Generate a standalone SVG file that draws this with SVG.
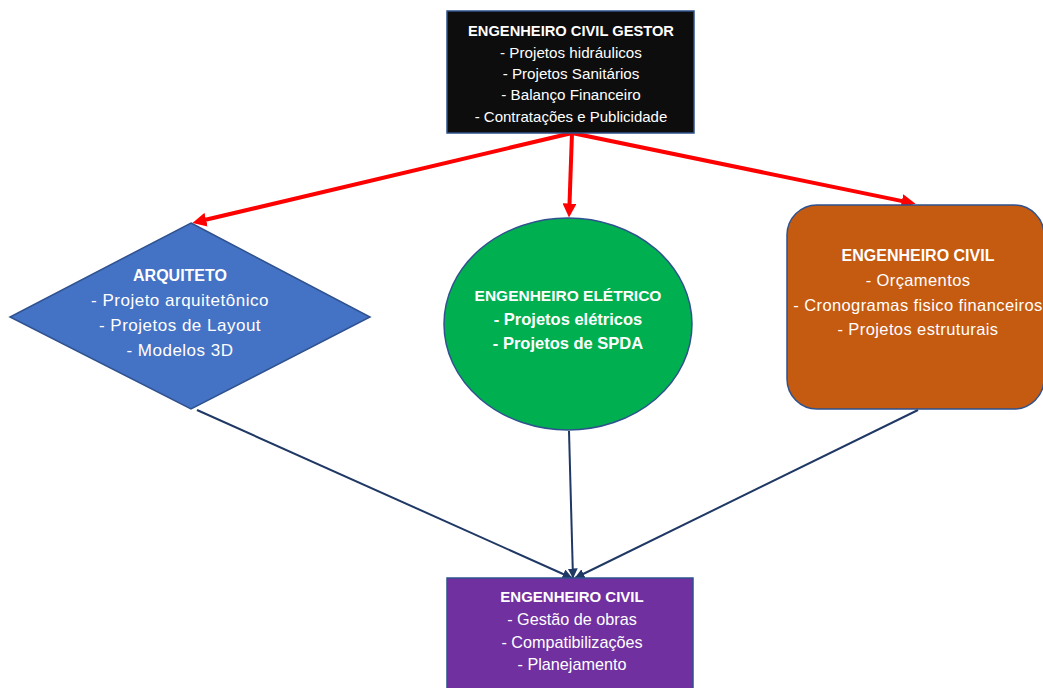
<svg xmlns="http://www.w3.org/2000/svg" width="1043" height="688" viewBox="0 0 1043 688">
  <defs>
    <style>
      .t { font-family: "Liberation Sans", Arial, sans-serif; fill: #ffffff; text-anchor: middle; }
      .b { font-weight: bold; }
      .shape { stroke: #2F528F; stroke-width: 1.5; }
      .red { stroke: #FF0000; stroke-width: 4; fill: none; marker-end: url(#redHead); }
      .navy { stroke: #1F3864; stroke-width: 2; fill: none; marker-end: url(#navyHead); }
    </style>
    <marker id="redHead" viewBox="0 0 14 14" markerWidth="14" markerHeight="14" refX="0.5" refY="7" orient="auto" markerUnits="userSpaceOnUse">
      <path d="M0,0 L14,7 L0,14 z" fill="#FF0000"/>
    </marker>
    <marker id="navyHead" viewBox="0 0 10 10" markerWidth="10" markerHeight="10" refX="9.5" refY="5" orient="auto" markerUnits="userSpaceOnUse">
      <path d="M0,0 L10,5 L0,10 z" fill="#1F3864"/>
    </marker>
  </defs>

  <rect width="1043" height="688" fill="#ffffff"/>

  <!-- connectors -->
  <g id="connectors">
    <line class="red" x1="572" y1="133" x2="205.6" y2="219.8"/>
    <line class="red" x1="572" y1="133" x2="569.5" y2="204"/>
    <line class="red" x1="572" y1="133" x2="902.3" y2="201.1"/>
    <line class="navy" x1="197" y1="410" x2="572" y2="578"/>
    <line class="navy" x1="569" y1="431" x2="573" y2="578"/>
    <line class="navy" x1="918" y1="410" x2="575" y2="578"/>
  </g>

  <!-- top manager -->
  <g id="gestor">
    <rect class="shape" x="447" y="11" width="247" height="122" fill="#0D0D0D" stroke="#3A4A66"/>
    <text class="t b" x="571" y="36" font-size="14.7">ENGENHEIRO CIVIL GESTOR</text>
    <text class="t" x="571" y="58" font-size="15.2">- Projetos hidráulicos</text>
    <text class="t" x="571" y="79" font-size="15.2">- Projetos Sanitários</text>
    <text class="t" x="571" y="100" font-size="15.2">- Balanço Financeiro</text>
    <text class="t" x="571" y="122" font-size="15">- Contratações e Publicidade</text>
  </g>

  <!-- architect -->
  <g id="arquiteto">
    <polygon class="shape" points="191,223 370,317 191,409 10,317" fill="#4472C4"/>
    <text class="t b" x="180" y="281" font-size="16">ARQUITETO</text>
    <text class="t" x="180" y="306" font-size="17" letter-spacing="0.5">- Projeto arquitetônico</text>
    <text class="t" x="180" y="331" font-size="17" letter-spacing="0.5">- Projetos de Layout</text>
    <text class="t" x="180" y="356" font-size="17" letter-spacing="0.5">- Modelos 3D</text>
  </g>

  <!-- electrical engineer -->
  <g id="eletrico">
    <ellipse class="shape" cx="568" cy="324" rx="124" ry="106" fill="#00B050"/>
    <text class="t b" x="568" y="301" font-size="15.5">ENGENHEIRO ELÉTRICO</text>
    <text class="t b" x="568" y="325" font-size="16.5">- Projetos elétricos</text>
    <text class="t b" x="568" y="349" font-size="16.5">- Projetos de SPDA</text>
  </g>

  <!-- civil engineer (budgets) -->
  <g id="civil-orcamentos">
    <rect class="shape" x="787" y="205" width="257" height="204" rx="30" fill="#C55A11"/>
    <text class="t b" x="918" y="261" font-size="16">ENGENHEIRO CIVIL</text>
    <text class="t" x="918" y="286" font-size="16.5" letter-spacing="0.4">- Orçamentos</text>
    <text class="t" x="918" y="311" font-size="16.5" letter-spacing="0.4">- Cronogramas fisico financeiros</text>
    <text class="t" x="918" y="335" font-size="16.5" letter-spacing="0.4">- Projetos estruturais</text>
  </g>

  <!-- civil engineer (works) -->
  <g id="civil-obras">
    <rect class="shape" x="447" y="578" width="246" height="115" fill="#7030A0"/>
    <text class="t b" x="572" y="602" font-size="15">ENGENHEIRO CIVIL</text>
    <text class="t" x="572" y="625" font-size="16.2">- Gestão de obras</text>
    <text class="t" x="572" y="648" font-size="16.2">- Compatibilizações</text>
    <text class="t" x="572" y="670" font-size="16.2">- Planejamento</text>
  </g>
</svg>
